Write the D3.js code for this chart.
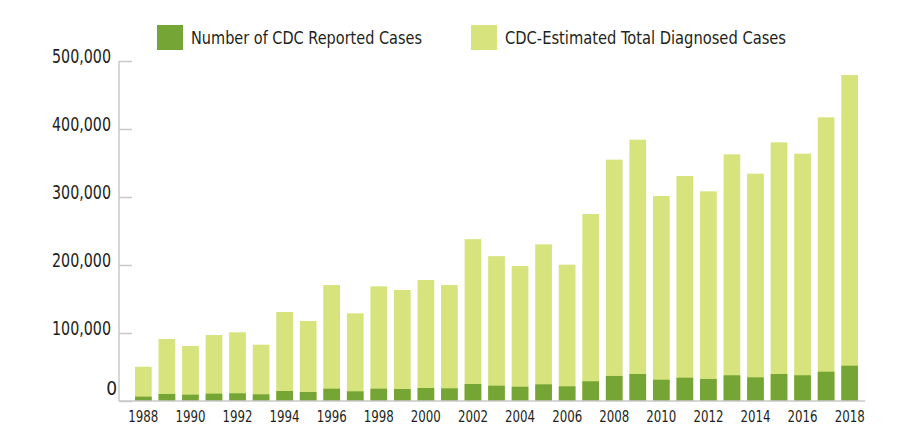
<!DOCTYPE html>
<html>
<head>
<meta charset="utf-8">
<script src="https://cdn.jsdelivr.net/npm/d3@7"></script>
<style>
  html, body { margin: 0; padding: 0; background: #fff; }
  svg text { font-family: "DejaVu Sans Condensed", "Liberation Sans Narrow", sans-serif; fill: #231f20; }
</style>
</head>
<body>
<svg id="chart" width="920" height="425"></svg>
<script>
const years = [1988,1989,1990,1991,1992,1993,1994,1995,1996,1997,1998,1999,2000,2001,2002,2003,2004,2005,2006,2007,2008,2009,2010,2011,2012,2013,2014,2015,2016,2017,2018];
const reported = [6400,10300,9300,10800,11300,9800,14700,13200,18100,14200,18100,17600,19100,18600,25000,22500,21000,24500,21600,29000,36800,39700,31300,34300,32400,37800,34800,39700,37800,43100,51900];
const estimated = [50400,91200,80900,97000,101000,82800,130900,117600,170600,128900,168600,163200,178000,170600,238000,213000,198500,230400,200500,275000,354900,384300,301500,330900,308300,362700,334300,380400,363700,417200,479400];
const yTicks = [0,100000,200000,300000,400000,500000];
const xTickYears = [1988,1990,1992,1994,1996,1998,2000,2002,2004,2006,2008,2010,2012,2014,2016,2018];
const seriesNames = ["Number of CDC Reported Cases", "CDC-Estimated Total Diagnosed Cases"];
const colors = ["#74a535", "#d7e37d"];

const svg = d3.select("#chart");
const axisLeft = 119, axisRight = 865, yTop = 61, yBottom = 401;

const x = d3.scaleBand().domain(years).range([135, 858]).paddingInner(0.29).paddingOuter(0);
const y = d3.scaleLinear().domain([0, 500000]).range([yBottom, yTop]);

svg.append("g").selectAll("rect").data(years).join("rect")
  .attr("x", d => x(d)).attr("width", x.bandwidth())
  .attr("y", (d,i) => y(estimated[i])).attr("height", (d,i) => y(0) - y(estimated[i]))
  .attr("fill", colors[1]);
svg.append("g").selectAll("rect").data(years).join("rect")
  .attr("x", d => x(d)).attr("width", x.bandwidth())
  .attr("y", (d,i) => y(reported[i])).attr("height", (d,i) => y(0) - y(reported[i]))
  .attr("fill", colors[0]);

const gy = svg.append("g").attr("transform", `translate(${axisLeft},0)`)
  .call(d3.axisRight(y).tickValues(yTicks).tickSize(13).tickFormat(""));
gy.select(".domain").remove();
gy.selectAll(".tick line").attr("stroke", "#c8c8c8").attr("stroke-width", 1.5);
svg.append("line").attr("x1", axisLeft).attr("x2", axisLeft).attr("y1", yTop).attr("y2", yBottom)
  .attr("stroke", "#c8c8c8").attr("stroke-width", 1.5);
svg.append("line").attr("x1", axisLeft).attr("x2", axisRight).attr("y1", yBottom).attr("y2", yBottom)
  .attr("stroke", "#c8c8c8").attr("stroke-width", 1.5);

const fmt = d3.format(",");
svg.append("g").selectAll("text").data(yTicks).join("text")
  .attr("x", d => d === 0 ? 117 : 111)
  .attr("y", d => d === 0 ? y(d) - 6 : y(d) + 2)
  .attr("text-anchor", "end")
  .attr("font-size", 19)
  .each(function(d) { if (d !== 0) d3.select(this).attr("textLength", 59).attr("lengthAdjust", "spacingAndGlyphs"); })
  .text(d => fmt(d));

svg.append("g").selectAll("text").data(xTickYears).join("text")
  .attr("x", d => x(d) + x.bandwidth()/2)
  .attr("y", 421.5)
  .attr("text-anchor", "middle")
  .attr("font-size", 16)
  .attr("textLength", 30).attr("lengthAdjust", "spacingAndGlyphs")
  .text(d => d);

const legendX = [157, 471];
const legendW = [231, 281];
const lg = svg.append("g").selectAll("g").data(seriesNames).join("g")
  .attr("transform", (d,i) => `translate(${legendX[i]},25)`);
lg.append("rect").attr("width", 26).attr("height", 25).attr("fill", (d,i) => colors[i]);
lg.append("text").attr("x", 34).attr("y", 19).attr("font-size", 18)
  .attr("textLength", (d,i) => legendW[i]).attr("lengthAdjust", "spacingAndGlyphs")
  .text(d => d);
</script>
</body>
</html>
